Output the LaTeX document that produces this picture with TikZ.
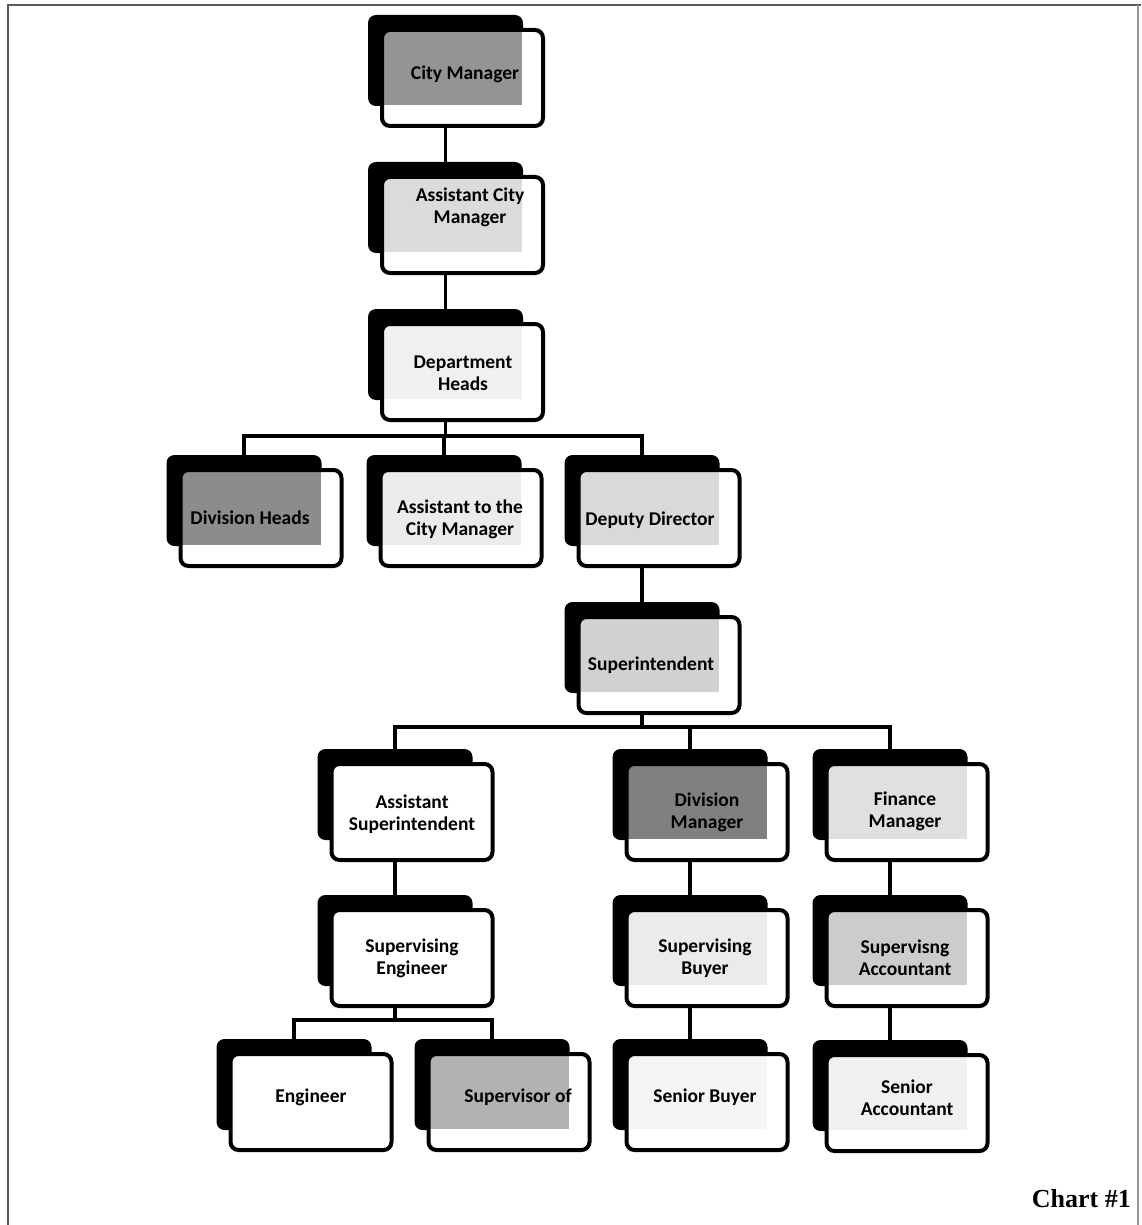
\documentclass[tikz,border=0pt]{standalone}
\usepackage{fontspec}
\setmainfont{Carlito}
\newfontfamily\chartfont{Liberation Serif}
\usetikzlibrary{calc}
\tikzset{
  backcard/.style={fill=black, rounded corners=8pt, minimum width=155pt, minimum height=91pt, inner sep=0pt, outer sep=0pt},
  frontcard/.style={draw=black, fill=white, line width=4pt, rounded corners=8pt, minimum width=161pt, minimum height=96pt, inner sep=0pt, outer sep=0pt},
  tone/.style={path picture={\fill[#1, sharp corners] (path picture bounding box.north west) rectangle ([xshift=-21pt,yshift=21pt]path picture bounding box.south east);}},
  cardtext/.style={font=\bfseries\fontsize{19.5}{22}\selectfont, align=center, inner sep=0pt},
  link/.style={draw=black, line width=3.4pt},
  frame/.style={draw=black!65, line width=1.5pt},
}
\newcommand\orgcard[4]{%
  \node[backcard] (#1b) at (#2-17,#3-17.5) {};
  \node[frontcard, tone=#4] (#1) at (#2,#3) {};
}
\begin{document}
\begin{tikzpicture}[x=1pt, y=-1pt]
\useasboundingbox (0,0) rectangle (1141,1225);
\fill[white] (0,0) rectangle (1141,1225);
\draw[frame] (8,1225) -- (8,5) -- (1141,5);
\draw[frame, draw=black!40] (1138,5) -- (1138,1225);

% cards
\orgcard{cm}{462.5}{78}{black!42}
\orgcard{acm}{462.5}{225}{black!14}
\orgcard{dh}{462.5}{372}{black!6}
\orgcard{divh}{261}{518}{black!45}
\orgcard{atc}{461}{518}{black!8}
\orgcard{dd}{659}{518}{black!15}
\orgcard{sup}{659}{665}{black!18}
\orgcard{asup}{412}{812}{white}
\orgcard{dm}{707}{812}{black!50}
\orgcard{fm}{907}{812}{black!12}
\orgcard{seng}{412}{958}{white}
\orgcard{sbuy}{707}{958}{black!8}
\orgcard{sacc}{907}{958}{black!20}
\orgcard{eng}{311}{1102}{white}
\orgcard{supof}{509}{1102}{black!30}
\orgcard{sbuyer}{707}{1102}{black!4}
\orgcard{sacct}{907}{1103}{black!6}

% texts
\node[cardtext] (cmt) at (465,74) {City Manager};
\node[cardtext] (acmt) at (470,207) {Assistant City\\Manager};
\node[cardtext] (dht) at (463,373) {Department\\Heads};
\node[cardtext] (divht) at (250,518) {Division Heads};
\node[cardtext] (atct) at (460,519) {Assistant to the\\City Manager};
\node[cardtext] (ddt) at (650,520) {Deputy Director};
\node[cardtext] (supt) at (651,665) {Superintendent};
\node[cardtext] (asupt) at (412,814) {Assistant\\Superintendent};
\node[cardtext] (dmt) at (707,812) {Division\\Manager};
\node[cardtext] (fmt) at (905,811) {Finance\\Manager};
\node[cardtext] (sengt) at (412,958) {Supervising\\Engineer};
\node[cardtext] (sbuyt) at (705,958) {Supervising\\Buyer};
\node[cardtext] (sacct2) at (905,958) {Supervisng\\Accountant};
\node[cardtext] (engt) at (311,1097) {Engineer};
\begin{scope}
  \clip (420,1040) rectangle (572,1160);
  \node[cardtext] (supoft) at (518,1097) {Supervisor of};
\end{scope}
\node[cardtext] (sbuyert) at (705,1097) {Senior Buyer};
\node[cardtext] (sacctt) at (907,1098) {Senior\\Accountant};

% connectors
\coordinate (barA) at (0,436);
\coordinate (barB) at (0,727);
\coordinate (barC) at (0,1020);
\draw[link] (cmb |- cm.south) -- (acmb.north);
\draw[link] (acmb |- acm.south) -- (dhb.north);
\draw[link] (dhb |- dh.south) -- (dhb |- barA);
\draw[link] (divhb.north) -- (divhb |- barA) -- (ddb |- barA) -- (ddb.north);
\draw[link] (atcb.north) -- (atcb |- barA);
\draw[link] (ddb |- dd.south) -- (supb.north);
\draw[link] (supb |- sup.south) -- (supb |- barB);
\draw[link] (asupb.north) -- (asupb |- barB) -- (fmb |- barB) -- (fmb.north);
\draw[link] (dmb.north) -- (dmb |- barB);
\draw[link] (asupb |- asup.south) -- (sengb.north);
\draw[link] (dmb |- dm.south) -- (sbuyb.north);
\draw[link] (fmb |- fm.south) -- (saccb.north);
\draw[link] (sengb |- seng.south) -- (sengb |- barC);
\draw[link] (engb.north) -- (engb |- barC) -- (supofb |- barC) -- (supofb.north);
\draw[link] (sbuyb |- sbuy.south) -- (sbuyerb.north);
\draw[link] (saccb |- sacc.south) -- (sacctb.north);

\node[font=\chartfont\bfseries\fontsize{26}{30}\selectfont, anchor=base east, inner sep=0pt] (chart) at (1131,1207) {Chart \#1};
\end{tikzpicture}
\end{document}
